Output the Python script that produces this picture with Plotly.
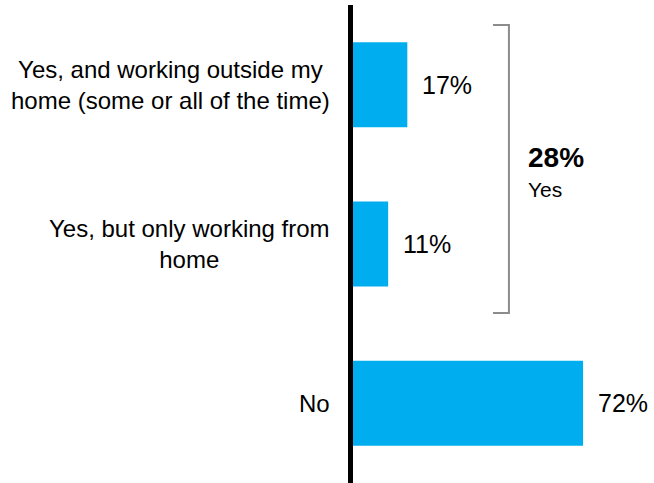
import plotly.graph_objects as go

# Survey answers and their shares (%)
categories = [
    "Yes, and working outside my<br>home (some or all of the time)",
    "Yes, but only working from<br>home",
    "No",
]
values = [17, 11, 72]
yes_total = values[0] + values[1]

BAR_COLOR = "#00AEEF"
FONT = "Liberation Sans, Arial, sans-serif"

fig = go.Figure(
    go.Bar(
        x=values,
        y=categories,
        orientation="h",
        marker=dict(color=BAR_COLOR, line=dict(width=0)),
        width=0.533,
        hoverinfo="skip",
    )
)

annotations = []
# Category labels to the left of the axis, centred within their block
for cat in categories:
    annotations.append(dict(
        x=0, xref="paper", y=cat, yref="y",
        text=cat, showarrow=False,
        xanchor="right", yanchor="middle", align="center",
        xshift=-21,
        font=dict(family=FONT, size=24, color="#000000"),
    ))
# Value labels just past each bar end
for cat, v in zip(categories, values):
    annotations.append(dict(
        x=v, xref="x", y=cat, yref="y",
        text=f"{v}%", showarrow=False,
        xanchor="left", yanchor="middle",
        xshift=13,
        font=dict(family=FONT, size=25, color="#000000"),
    ))
# Combined "Yes" total beside the bracket
annotations.append(dict(
    x=54.2, xref="x", y=0.454, yref="y",
    text=f"<b>{yes_total}%</b>", showarrow=False,
    xanchor="left", yanchor="middle",
    font=dict(family=FONT, size=28, color="#000000"),
))
annotations.append(dict(
    x=54.2, xref="x", y=0.655, yref="y",
    text="Yes", showarrow=False,
    xanchor="left", yanchor="middle",
    font=dict(family=FONT, size=21, color="#000000"),
))

# Bracket grouping the two "Yes" answers
shapes = [dict(
    type="path", xref="x", yref="y",
    path="M 43.8,-0.374 L 48.8,-0.374 L 48.8,1.433 L 43.8,1.433",
    line=dict(color="#8c8c8c", width=2),
)]

fig.update_layout(
    width=654, height=483,
    margin=dict(l=353, r=0, t=5, b=0),
    paper_bgcolor="white", plot_bgcolor="white",
    showlegend=False,
    annotations=annotations,
    shapes=shapes,
    xaxis=dict(range=[0, 94.2], visible=False, fixedrange=True),
    yaxis=dict(
        range=[2.5, -0.5],
        showline=True, linewidth=5, linecolor="#000000",
        showticklabels=False, showgrid=False, zeroline=False,
        ticks="", fixedrange=True,
    ),
)

fig.write_html("out.html", config={"displayModeBar": False})
